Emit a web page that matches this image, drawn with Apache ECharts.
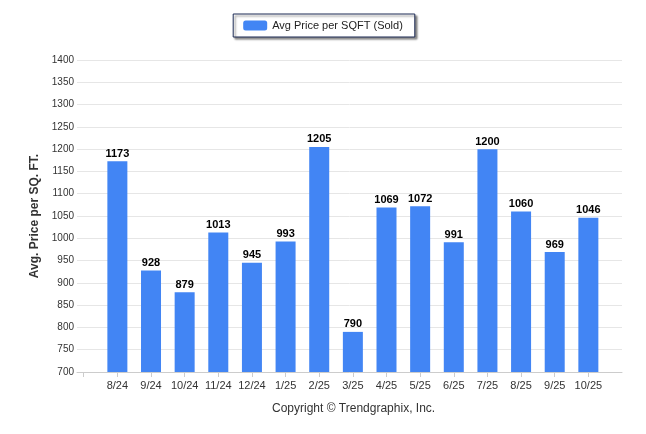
<!DOCTYPE html>
<html>
<head>
<meta charset="utf-8">
<script src="https://cdn.jsdelivr.net/npm/echarts@6/dist/echarts.min.js"></script>
<style>html,body{margin:0;padding:0;background:#fff}#c{width:646px;height:434px}</style>
</head>
<body>
<div id="c"></div>
<script>
const categories = ['8/24','9/24','10/24','11/24','12/24','1/25','2/25','3/25','4/25','5/25','6/25','7/25','8/25','9/25','10/25'];
const values = [1173, 928, 879, 1013, 945, 993, 1205, 790, 1069, 1072, 991, 1200, 1060, 969, 1046];
const seriesName = 'Avg Price per SQFT (Sold)';
const yTitle = 'Avg. Price per SQ. FT.';
const copyright = 'Copyright \u00A9 Trendgraphix, Inc.';

const chart = echarts.init(document.getElementById('c'));
const idx = categories.map((c, i) => i);
chart.setOption({
  animation: false,
  textStyle: { fontFamily: 'Liberation Sans, Arial, sans-serif' },
  legend: {
    top: 14, left: 'center',
    data: [seriesName],
    itemWidth: 24, itemHeight: 10,
    padding: [6, 12, 6, 10],
    borderColor: '#1c2a55', borderWidth: 1,
    backgroundColor: '#fff',
    shadowColor: 'rgba(0,0,0,0.45)', shadowBlur: 2, shadowOffsetX: 2, shadowOffsetY: 2,
    textStyle: { fontSize: 11, color: '#222' }
  },
  grid: { left: 77, right: 24, top: 60, bottom: 62, containLabel: false },
  xAxis: {
    type: 'value', min: -1.2, max: 15,
    splitLine: { show: false },
    axisLine: { show: true, lineStyle: { color: '#ccc' } },
    axisTick: { show: true, customValues: [-1].concat(idx), length: 5, lineStyle: { color: '#ccc' } },
    axisLabel: {
      customValues: idx,
      formatter: v => categories[Math.round(v)] || '',
      fontSize: 11, color: '#333', margin: 8
    }
  },
  yAxis: {
    type: 'value', min: 700, max: 1400, interval: 50,
    name: yTitle, nameLocation: 'middle', nameGap: 28,
    nameTextStyle: { fontSize: 12, fontWeight: 'bold', color: '#333' },
    axisLine: { show: false },
    axisTick: { show: false },
    splitLine: { lineStyle: { color: '#e6e6e6' } },
    axisLabel: { fontSize: 10, color: '#333', margin: 3, formatter: v => String(v) }
  },
  series: [{
    name: seriesName,
    type: 'bar',
    barWidth: 20,
    itemStyle: { color: '#4285F4' },
    data: values.map((v, i) => [i, v]),
    label: {
      show: true, position: 'top', distance: 2,
      formatter: p => p.value[1],
      fontSize: 11, fontWeight: 'bold', color: '#000'
    }
  }],
  graphic: [{
    type: 'text', left: 272, top: 403,
    style: { text: copyright, fontSize: 12, fill: '#333', fontFamily: 'Liberation Sans, Arial, sans-serif' }
  }]
});
</script>
</body>
</html>
